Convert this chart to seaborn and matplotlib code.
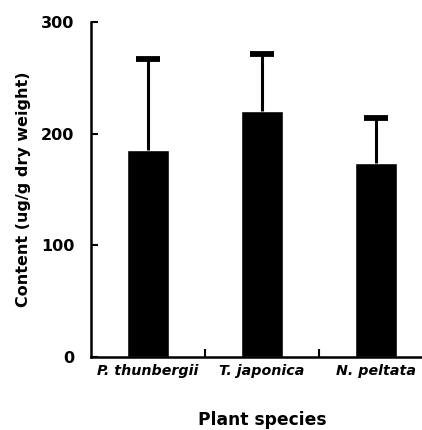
import pandas as pd
import seaborn as sns
import matplotlib.pyplot as plt
from matplotlib.ticker import FixedLocator

species = ["P. thunbergii", "T. japonica", "N. peltata"]
content = [185, 220, 174]
upper_err = [82, 51, 40]

sns.set_style("ticks")
plt.rcParams['font.family'] = ['DejaVu Sans']
plt.rcParams['font.weight'] = 'bold'
plt.rcParams['text.color'] = 'black'
plt.rcParams['axes.labelcolor'] = 'black'
plt.rcParams['xtick.color'] = 'black'
plt.rcParams['ytick.color'] = 'black'
plt.rcParams['axes.edgecolor'] = 'black'

df = pd.DataFrame({'species': species, 'content': content})

fig = plt.figure(figsize=(4.22, 4.30), dpi=100)
ax = fig.add_axes([91 / 422, 73 / 430, 342 / 422, 335 / 430])

sns.barplot(x='species', y='content', data=df, color='black', saturation=1,
            width=0.36, errorbar=None, ax=ax)

# only the upper half of the error bars is shown
eb = ax.errorbar(range(len(species)), content, yerr=[[0] * len(species), upper_err],
                 fmt='none', ecolor='black', elinewidth=2.2, capsize=8.5, capthick=4.2)
eb[1][0].set_visible(False)  # lower caps

ax.set_xlim(-0.5, 2.5)
ax.set_ylim(0, 300)
ax.set_yticks([0, 100, 200, 300])
ax.tick_params(axis='y', direction='in', length=5, width=1.5, pad=12, labelsize=11.5)
ax.tick_params(axis='x', which='major', length=0, pad=5)
ax.xaxis.set_minor_locator(FixedLocator([0.5, 1.5]))
ax.tick_params(axis='x', which='minor', direction='in', length=6, width=1.5)

for lab in ax.get_xticklabels():
    lab.set_fontstyle('italic')
    lab.set_fontweight('bold')
    lab.set_fontsize(10.3)
for lab in ax.get_yticklabels():
    lab.set_fontweight('bold')

ax.set_xlabel("Plant species", fontsize=12.3, fontweight='bold', labelpad=24)
ax.set_ylabel("Content (ug/g dry weight)", fontsize=11.5, fontweight='bold', labelpad=7)

sns.despine(ax=ax)
ax.spines['left'].set_linewidth(1.8)
ax.spines['bottom'].set_linewidth(1.8)

fig.savefig('out.png', dpi=100)
